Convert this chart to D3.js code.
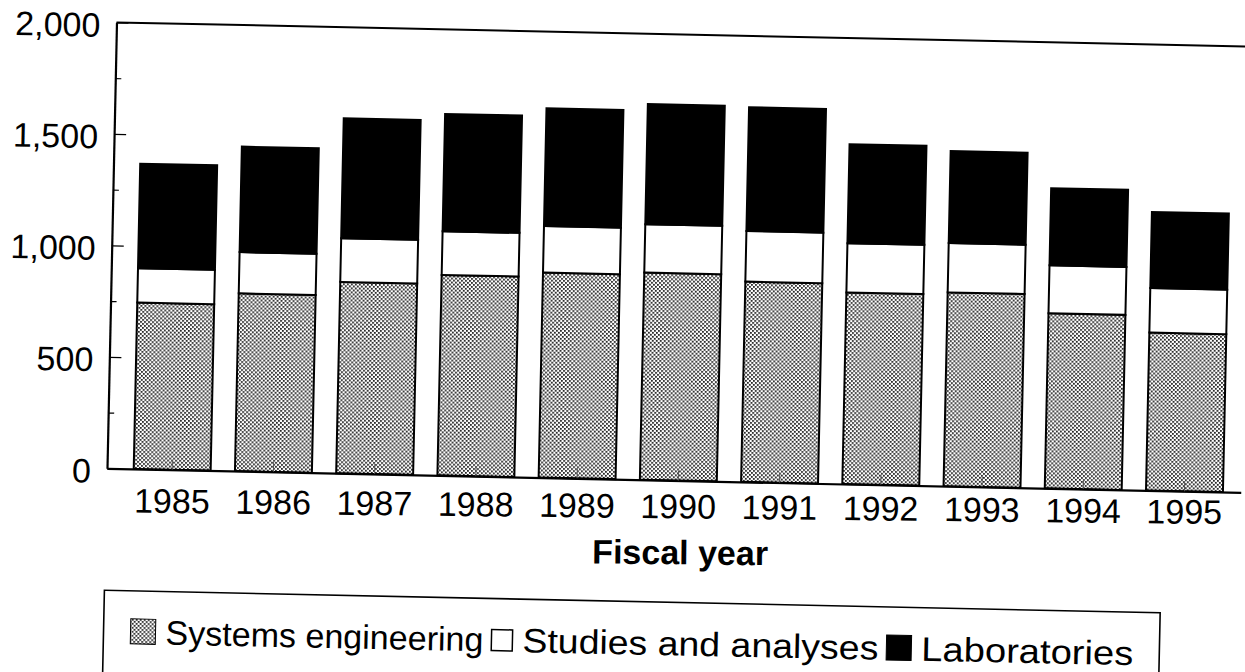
<!DOCTYPE html>
<html>
<head>
<meta charset="utf-8">
<script src="https://cdn.jsdelivr.net/npm/d3@7"></script>
<style>
  body { margin: 0; background: #fff; }
  text { font-family: "Liberation Sans", Arial, Helvetica, sans-serif; fill: #000; }
</style>
</head>
<body>
<div id="chart"></div>
<script>

var years = ['1985', '1986', '1987', '1988', '1989', '1990', '1991', '1992', '1993', '1994', '1995'];
var systemsEngineering = [746, 797, 858, 899, 919, 929, 898, 859, 869, 785, 708];
var studiesAnalyses = [154, 185, 196, 196, 209, 217, 227, 221, 221, 215, 200];
var laboratories = [469, 473, 538, 526, 528, 539, 555, 444, 413, 346, 341];

var seriesKeys = ['se', 'sa', 'lab'];
var seriesLabels = ['Systems engineering', 'Studies and analyses', 'Laboratories'];
var yTicks = [0, 500, 1000, 1500, 2000];
var yMinorTicks = [250, 750, 1250, 1750];
var xTitle = 'Fiscal year';

var width = 1245, height = 672;
var plotW = 1134, plotH = 446;
// the scanned page is a bit skewed, so the whole chart is turned slightly
var originX = 107, originY = 468.3, tilt = 1.22;
// widths the legend texts take on the scan
var legendTextW = [318, 356, 212];

var rows = years.map(function(y, i) {
    return { year: y, se: systemsEngineering[i], sa: studiesAnalyses[i], lab: laboratories[i] };
});

var svg = d3.select('#chart')
    .append('svg')
    .attr('width', width)
    .attr('height', height);

var defs = svg.append('defs');
var pat = defs.append('pattern')
    .attr('id', 'dots')
    .attr('patternUnits', 'userSpaceOnUse')
    .attr('width', 4)
    .attr('height', 4);
pat.append('rect').attr('width', 4).attr('height', 4).attr('fill', '#fff');
pat.append('rect').attr('x', 0).attr('y', 0).attr('width', 1.8).attr('height', 1.8).attr('fill', '#222');
pat.append('rect').attr('x', 2).attr('y', 2).attr('width', 1.8).attr('height', 1.8).attr('fill', '#222');

var fills = { se: 'url(#dots)', sa: '#fff', lab: '#000' };

var g = svg.append('g')
    .attr('transform', 'translate(' + originX + ',' + originY + ') rotate(' + tilt + ') translate(0,' + (-plotH) + ')');

var x = d3.scaleBand()
    .domain(years)
    .range([0, plotW])
    .paddingInner(0.24)
    .paddingOuter(0.22)
    .align(0.6);

var y = d3.scaleLinear()
    .domain([0, 2000])
    .range([plotH, 0]);

var stacked = d3.stack().keys(seriesKeys)(rows);

g.selectAll('g.layer')
    .data(stacked)
    .enter().append('g')
    .attr('class', 'layer')
    .attr('fill', function(d) { return fills[d.key]; })
    .selectAll('rect')
    .data(function(d) { return d; })
    .enter().append('rect')
    .attr('x', function(d) { return x(d.data.year); })
    .attr('y', function(d) { return y(d[1]); })
    .attr('width', x.bandwidth())
    .attr('height', function(d) { return y(d[0]) - y(d[1]); })
    .attr('stroke', '#000')
    .attr('stroke-width', 2);

// top frame line
g.append('line')
    .attr('x1', 0).attr('y1', 0)
    .attr('x2', plotW + 10).attr('y2', 0)
    .attr('stroke', '#000')
    .attr('stroke-width', 2);

// small ticks at bar centres, pointing up
var xTickAxis = g.append('g')
    .attr('transform', 'translate(0,' + plotH + ')')
    .call(d3.axisBottom(x).tickSize(-10).tickSizeOuter(0).tickFormat(''));
xTickAxis.selectAll('.tick line').attr('stroke', '#555').attr('stroke-width', 1);
xTickAxis.select('.domain').attr('stroke', '#000').attr('stroke-width', 2.2);

var yMinor = g.append('g')
    .call(d3.axisLeft(y).tickValues(yMinorTicks).tickSize(-6).tickSizeOuter(0).tickFormat(''));
yMinor.select('.domain').remove();
yMinor.selectAll('.tick line').attr('stroke-width', 1.2);

var yAxis = g.append('g')
    .call(d3.axisLeft(y).tickValues(yTicks).tickSize(-12).tickSizeOuter(0).tickPadding(16).tickFormat(d3.format(',')));
yAxis.select('.domain').attr('stroke-width', 2.2);
yAxis.selectAll('.tick line').attr('stroke-width', 1.2);
yAxis.selectAll('text')
    .attr('font-size', '34px')
    .attr('dy', '0.42em')
    .attr('font-family', null);

// year labels sit on a slightly flatter line than the axis
var lg = svg.append('g')
    .attr('transform', 'translate(' + originX + ',' + originY + ') rotate(0.6)');

var xLabels = lg.append('g')
    .call(d3.axisBottom(x).tickSize(0).tickSizeOuter(0));
xLabels.select('.domain').remove();
xLabels.selectAll('text')
    .attr('y', 44)
    .attr('dy', 0)
    .attr('font-size', '34px')
    .attr('font-family', null);

lg.append('text')
    .attr('x', 574)
    .attr('y', 90)
    .attr('text-anchor', 'middle')
    .attr('font-size', '34px')
    .attr('font-weight', 'bold')
    .text(xTitle);

// legend box (bottom runs off the page)
var leg = g.append('g')
    .attr('transform', 'translate(0,' + (plotH + 122) + ')');

leg.append('rect')
    .attr('x', 0)
    .attr('y', 0)
    .attr('width', 1056)
    .attr('height', 130)
    .attr('fill', 'none')
    .attr('stroke', '#000')
    .attr('stroke-width', 1.6);

var lx = 27;
var base = 53;
seriesKeys.forEach(function(k, i) {
    var sq = k == 'sa' ? 21 : 25;
    leg.append('rect')
        .attr('x', lx)
        .attr('y', base - sq - (k == 'sa' ? 1 : 0))
        .attr('width', sq)
        .attr('height', sq)
        .attr('fill', fills[k])
        .attr('stroke', '#000')
        .attr('stroke-width', k == 'sa' ? 1.5 : 1);
    lx += sq + 10;
    leg.append('text')
        .attr('x', lx)
        .attr('y', base)
        .attr('font-size', '34px')
        .attr('textLength', legendTextW[i])
        .attr('lengthAdjust', 'spacingAndGlyphs')
        .text(seriesLabels[i]);
    lx += legendTextW[i] + 8;
});

</script>
</body>
</html>
